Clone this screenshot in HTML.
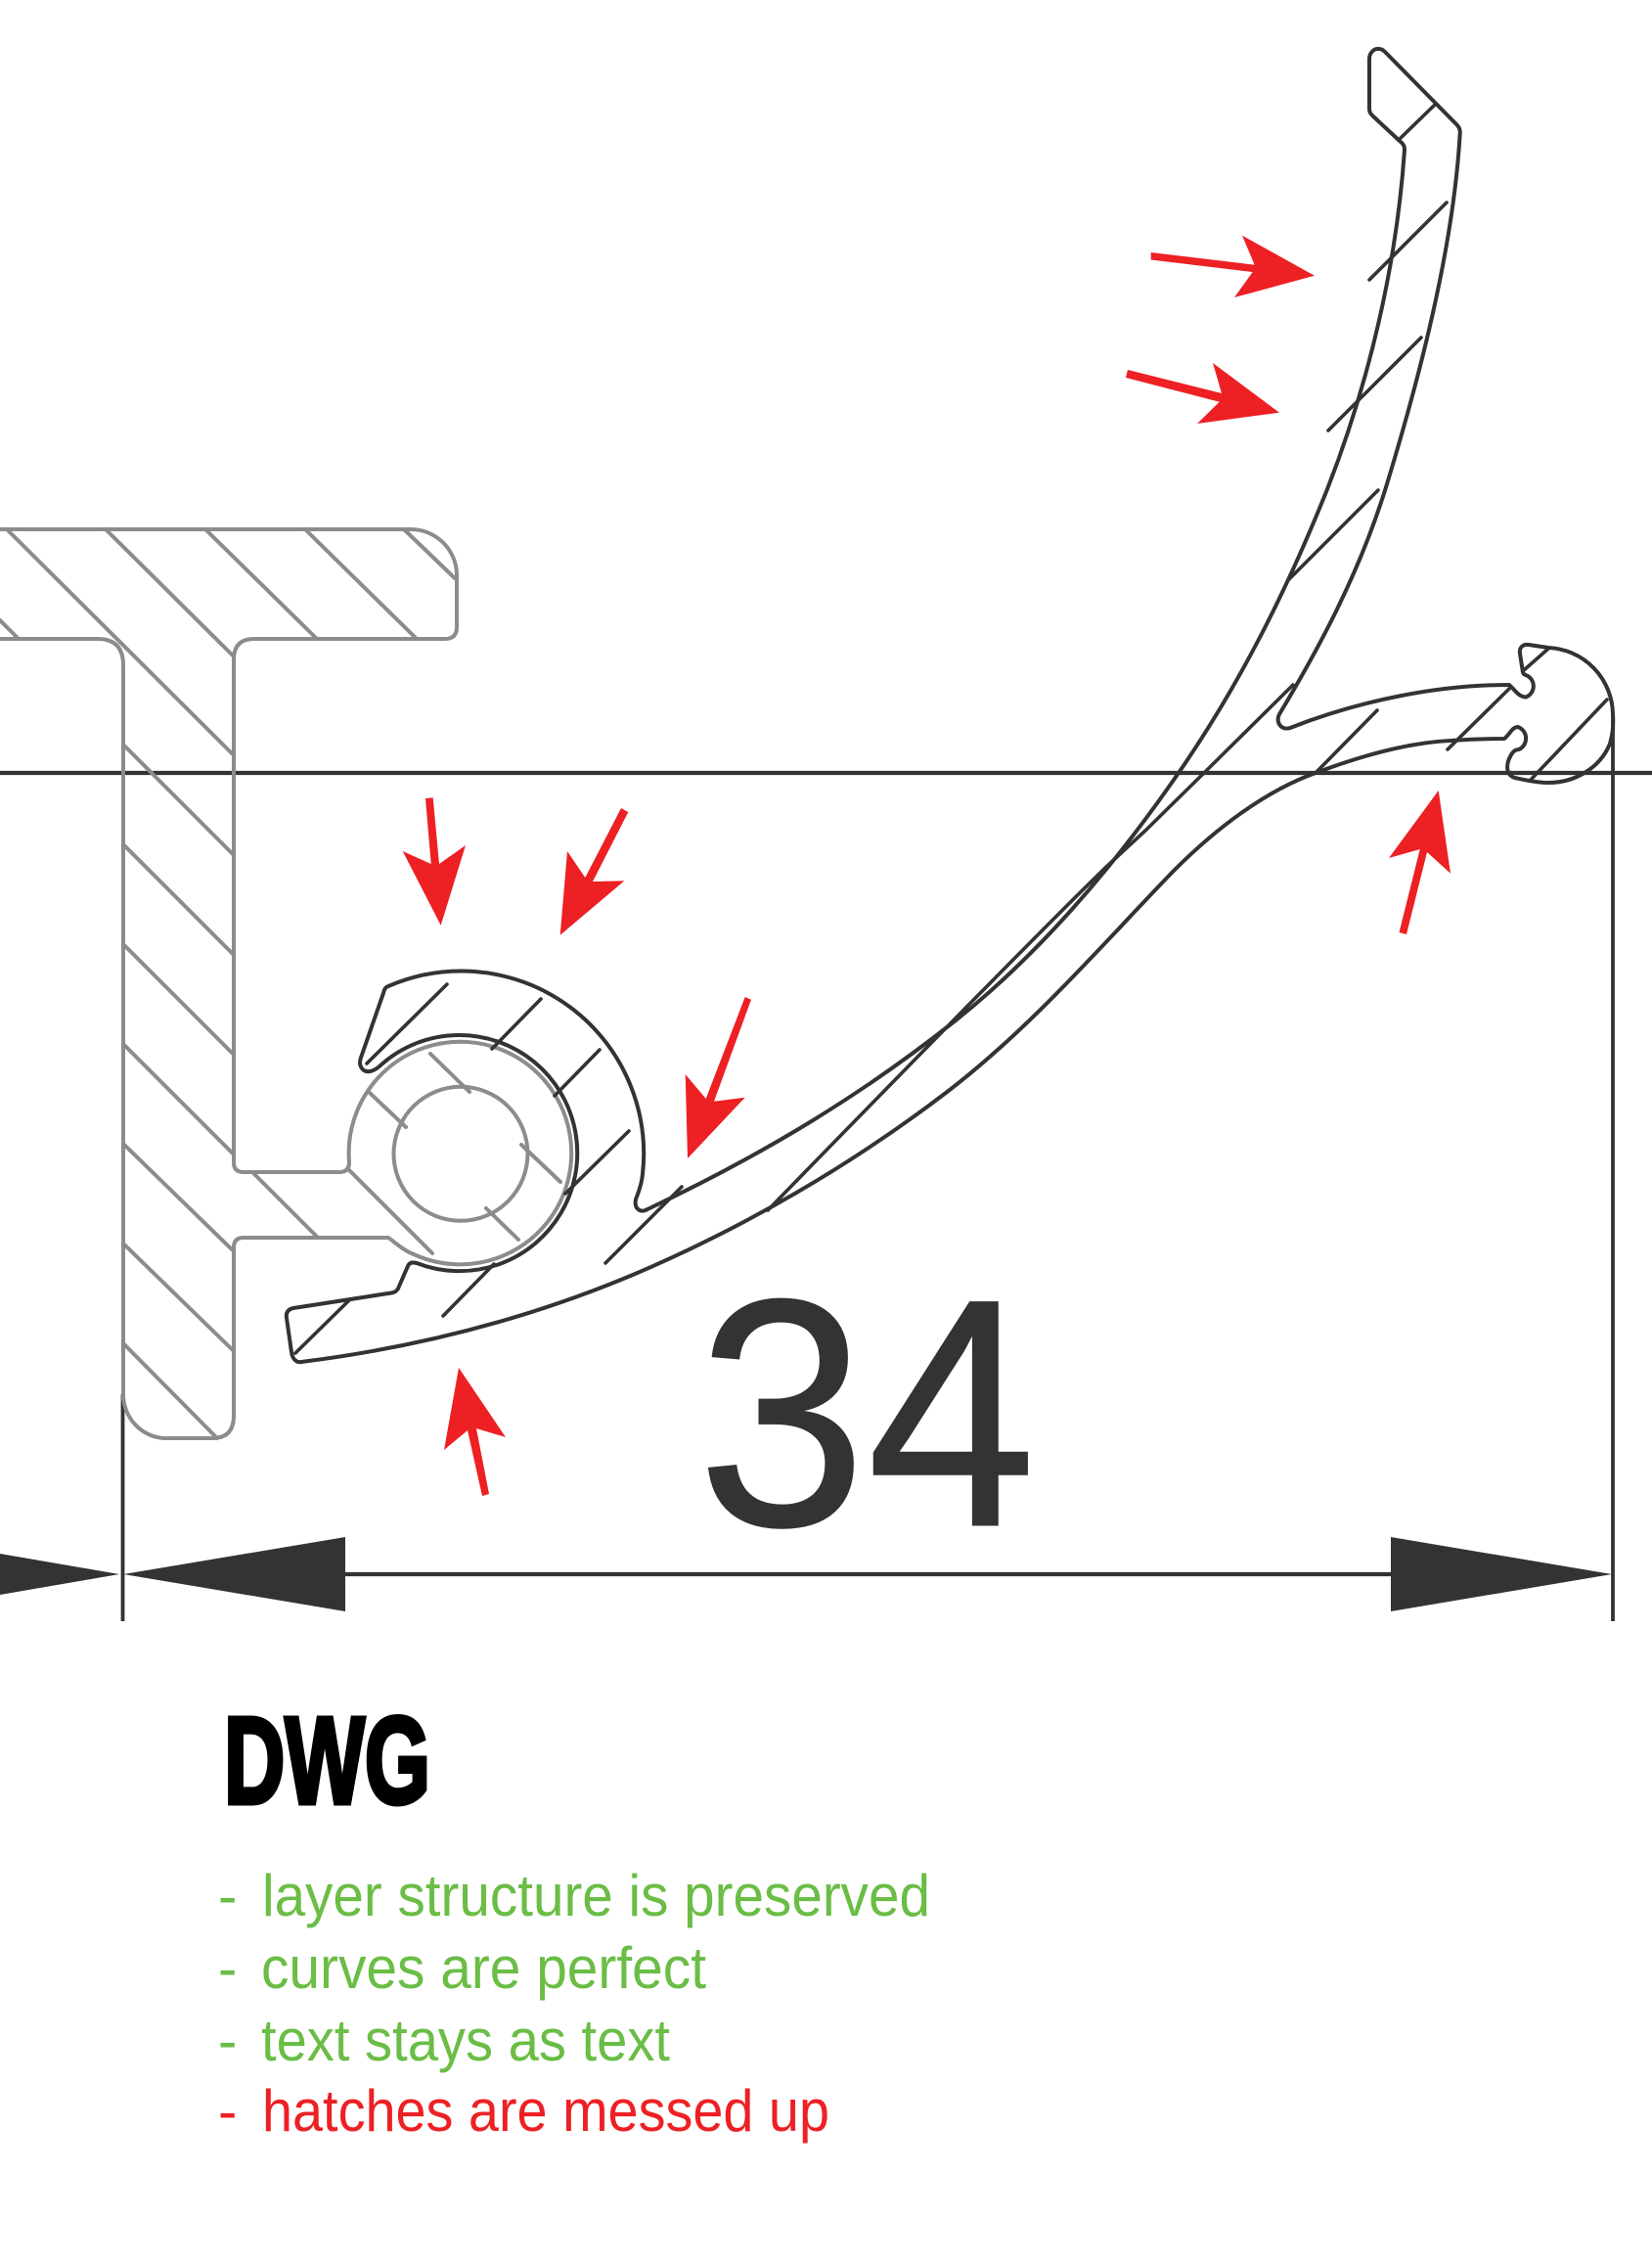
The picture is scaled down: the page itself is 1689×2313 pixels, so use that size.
<!DOCTYPE html>
<html>
<head>
<meta charset="utf-8">
<style>
html,body{margin:0;padding:0;background:#fff;width:1689px;height:2313px;overflow:hidden}
svg{display:block}
</style>
</head>
<body>
<svg width="1689" height="2313" viewBox="0 0 1689 2313" xmlns="http://www.w3.org/2000/svg">
<rect width="1689" height="2313" fill="#fff"/>
<!-- dimension lines -->
<g stroke="#333" fill="none">
<path d="M0,790 H1689" stroke-width="4.2"/>
<path d="M125.5,1425 V1657" stroke-width="3.8"/>
<path d="M1649,730 V1657" stroke-width="3.8"/>
<path d="M353,1609 H1422" stroke-width="4.2"/>
</g>
<g fill="#333">
<polygon points="126,1609 353,1571 353,1647"/>
<polygon points="1648,1609 1422,1571 1422,1647"/>
<polygon points="122,1609 0,1588 0,1630"/>
</g>
<text x="712.6" y="1559" font-family="'Liberation Sans',sans-serif" font-size="332" fill="#333" stroke="#333" stroke-width="1" textLength="347" lengthAdjust="spacingAndGlyphs">34</text>
<!-- gray part -->
<g stroke="#8c8c8c" stroke-width="4" fill="none" stroke-linecap="round" stroke-linejoin="round">
<path d="M0,541 H420 A47,47 0 0 1 467,588 V641 Q467,653 455,653 H260 Q239,653 239,674 V1188 Q239,1198 249,1198 H347 Q357,1198 357,1188 A113.8,113.8 0 1 1 423,1282 C412,1278 403,1269 397,1265 H249 Q239,1265 239,1275 V1447 Q239,1470 217,1470 H170 A44,45 0 0 1 126,1425 V680 Q126,653 100,653 H0"/>
<circle cx="471" cy="1179.3" r="68.5"/>
<path d="M7,541 L238,771"/>
<path d="M108,541 L238,670"/>
<path d="M210,541 L323,652"/>
<path d="M312,541 L425,652"/>
<path d="M413,541 L465,591"/>
<path d="M0,634 L18,652"/>
<path d="M126,761 L238,873"/>
<path d="M126,863 L238,975"/>
<path d="M126,965 L238,1077"/>
<path d="M126,1067 L238,1179"/>
<path d="M126,1169 L238,1278"/>
<path d="M126,1271 L238,1380"/>
<path d="M126,1373 L222,1470"/>
<path d="M258,1198 L324,1264"/>
<path d="M356,1195 L442,1281"/>
<path d="M440,1077 L480,1116"/>
<path d="M378,1117 L415,1152"/>
<path d="M533,1170 L573,1208"/>
<path d="M497,1235 L530,1267"/>
</g>
<!-- black profile -->
<g stroke="#333" stroke-width="4" fill="none" stroke-linecap="round" stroke-linejoin="round">
<path d="M397,1008 A186.7,186.7 0 0 1 657,1200 C656,1212 652,1220 650,1226 C648,1236 655,1240 662,1236
C780,1180 880,1120 977,1043 C1060,977 1135,890 1198,800 C1265,705 1315,605 1357,500 C1400,390 1428,270 1436,153 C1436,150 1435,147 1432,145
L1403,118 C1400,115 1400,113 1400,110 L1400,60 C1400,54 1405,49 1410,50 C1412,50 1414,51 1416,53 L1489,127 C1492,130 1493,133 1492.7,136
C1486,255 1450,390 1417,498 C1390,585 1350,660 1308,730 C1304,737 1309,747 1319,744
C1390,716 1470,700 1543,700 C1548,704 1552,712 1560,712.5 A12,12 0 0 0 1560,690 C1556,689 1557,685 1556,681 L1554,668 C1553,662 1557,658 1563,659 L1583,662 A69,69 0 0 1 1649,730
C1650,745 1648,752 1646,760 C1636,785 1610,800 1583,800 C1570,800 1558,797 1549,795 C1541,793 1540,785 1542,778 C1545,770 1548,766 1553,766 A12.5,12.5 0 0 0 1552,743 C1546,743 1544,750 1538,755
C1530,755 1510,755 1483,757 C1440,759 1390,773 1345,790 C1295,808 1245,845 1200,890 C1130,962 1055,1050 967,1117 C870,1191 760,1255 647,1303 C535,1350 420,1378 308,1392
C303,1393 299,1389 298,1382 L293,1347 C292,1341 295,1338 300,1337 L400,1321.5 C404,1321 406,1319 407,1317 L417,1294 C419,1290 422,1290 426,1291
A120.6,120.6 0 1 0 390,1088 C384,1094 377,1097 372,1094 C368,1091 367,1086 369,1081 L392,1015 C393,1011 394,1009 397,1008 Z"/>
<g stroke-width="3.6">
<path d="M1431,142 L1467,107"/>
<path d="M1400,286 L1479,207"/>
<path d="M1358,440 L1453,345"/>
<path d="M1317,593 L1409,501"/>
<path d="M785,1237 C860,1160 1060,955 1130,887 L1172,848 L1233,788 L1322,700"/>
<path d="M1345,790 L1408,726"/>
<path d="M1480,766 L1545,702"/>
<path d="M1558,685 L1583,663"/>
<path d="M1565,797 L1643,715"/>
<path d="M375,1087 L457,1006"/>
<path d="M503,1072 L553,1021"/>
<path d="M567,1120 L613,1073"/>
<path d="M578,1220 L643,1156"/>
<path d="M619,1291 L697,1213"/>
<path d="M453,1345 L505,1292"/>
<path d="M302,1383 L358,1328"/>
</g>
</g>
<!-- red arrows -->
<g fill="#ed2024">
<polygon points="1176.7,258 1282.7,270.7 1270,240.7 1344,281.7 1262,304 1280.7,278 1176.7,265.5"/>
<polygon points="1153,378 1249,402 1240,371 1308,421.7 1224,433 1246.7,410.7 1151,386"/>
<polygon points="435,816 442.7,815.3 449,883 476,864 450.7,945.7 411.7,870 440.7,883"/>
<polygon points="635,826 642.3,830 606,901 638.3,900.3 572.7,955.7 580,870 598.3,897"/>
<polygon points="761.7,1019 768,1021.7 730,1125.7 761.7,1121.7 703,1184 700.7,1098 721.7,1123"/>
<polygon points="1430.5,953 1438,955 1459,871 1483,892.7 1470.7,808 1420,877 1451.7,868"/>
<polygon points="493,1529 500,1527 487,1460 517,1469 469,1398 454,1482 478,1462"/>
</g>
<!-- text -->
<text x="229" y="1843" font-family="'Liberation Sans',sans-serif" font-weight="700" font-size="126" fill="#000" stroke="#000" stroke-width="5" textLength="211" lengthAdjust="spacingAndGlyphs">DWG</text>
<g font-family="'Liberation Sans',sans-serif" font-size="60">
<g fill="#6abd45">
<text x="223" y="1958" font-size="58">-</text>
<text x="268" y="1958" textLength="683" lengthAdjust="spacingAndGlyphs">layer structure is preserved</text>
<text x="223" y="2032" font-size="58">-</text>
<text x="267" y="2032" textLength="455" lengthAdjust="spacingAndGlyphs">curves are perfect</text>
<text x="223" y="2106" font-size="58">-</text>
<text x="267" y="2106" textLength="418" lengthAdjust="spacingAndGlyphs">text stays as text</text>
</g>
<g fill="#ed2024">
<text x="223" y="2178" font-size="58">-</text>
<text x="268" y="2178" textLength="580" lengthAdjust="spacingAndGlyphs">hatches are messed up</text>
</g>
</g>
</svg>
</body>
</html>
